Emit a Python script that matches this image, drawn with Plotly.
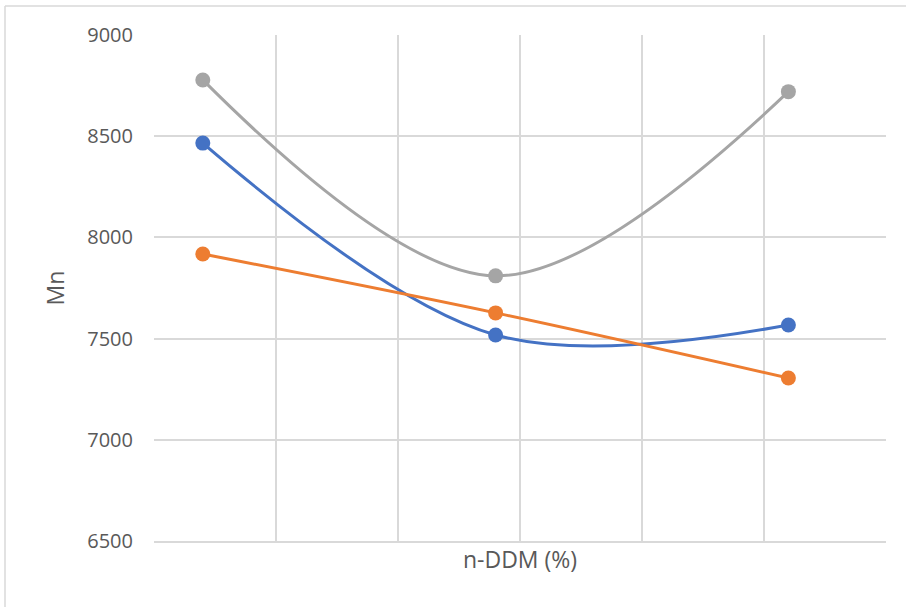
import plotly.graph_objects as go

# n-DDM loading levels (x positions on a hidden value axis)
ddm_levels = [0.2, 1.4, 2.6]

# Mn values for the three series
series_blue = [8466, 7518, 7567]
series_orange = [7918, 7627, 7305]
series_gray = [8778, 7810, 8720]

y_ticks = [6500, 7000, 7500, 8000, 8500, 9000]

colors = {"blue": "#4472C4", "orange": "#ED7D31", "gray": "#A5A5A5"}

fig = go.Figure()
for name, vals in [("gray", series_gray), ("blue", series_blue), ("orange", series_orange)]:
    fig.add_trace(go.Scatter(
        x=ddm_levels, y=vals, mode="lines+markers", name=name,
        line=dict(color=colors[name], width=3, shape="spline", smoothing=1.0),
        marker=dict(color=colors[name], size=15),
        showlegend=False,
    ))

grid = "#d9d9d9"
fig.update_layout(
    width=906, height=607,
    margin=dict(l=154, r=20, t=35, b=66),
    paper_bgcolor="white", plot_bgcolor="white",
    font=dict(family="Open Sans", size=20, color="#595959"),
    xaxis=dict(
        range=[0, 3], dtick=0.5, showticklabels=False, ticks="",
        showgrid=True, gridcolor=grid, gridwidth=2,
        zeroline=False, showline=True, linecolor=grid, linewidth=2, mirror=False,
        title=dict(text="n-DDM (%)", standoff=10, font=dict(size=23, color="#595959")),
    ),
    yaxis=dict(
        range=[6500, 9000], tickvals=y_ticks, ticks="",
        showgrid=True, gridcolor=grid, gridwidth=2,
        zeroline=False, showline=False,
        ticklabelstandoff=20,
        title=dict(text="Mn", standoff=16, font=dict(size=23, color="#595959")),
    ),
    shapes=[
        # chart-area frame (top and left edges within view)
        dict(type="line", xref="paper", yref="paper",
             x0=(5 - 154) / 732, x1=(906 - 154) / 732, y0=(541 - 6) / 506, y1=(541 - 6) / 506,
             line=dict(color=grid, width=1.5)),
        dict(type="line", xref="paper", yref="paper",
             x0=(5 - 154) / 732, x1=(5 - 154) / 732, y0=(541 - 6) / 506, y1=(541 - 607) / 506,
             line=dict(color=grid, width=1.5)),
    ],
)

fig.write_html("out.html")
